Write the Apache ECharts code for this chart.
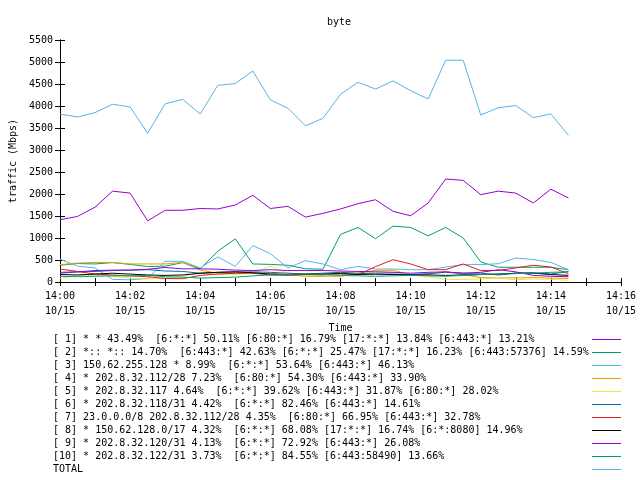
<!DOCTYPE html>
<html><head><meta charset="utf-8">
<script src="https://cdn.jsdelivr.net/npm/echarts@6/dist/echarts.min.js"></script>
<style>html,body{margin:0;padding:0;background:#fff}#c{width:640px;height:480px}</style>
</head><body><div id="c"></div>
<script>
const times = ['14:00:00','14:00:30','14:01:00','14:01:30','14:02:00','14:02:30','14:03:00','14:03:30','14:04:00','14:04:30',
 '14:05:00','14:05:30','14:06:00','14:06:30','14:07:00','14:07:30','14:08:00','14:08:30','14:09:00','14:09:30',
 '14:10:00','14:10:30','14:11:00','14:11:30','14:12:00','14:12:30','14:13:00','14:13:30','14:14:00','14:14:30'];
const xTickLabels = ['14:00','14:02','14:04','14:06','14:08','14:10','14:12','14:14','14:16'];
const dateLabel = '10/15';
const yTicks = [0,500,1000,1500,2000,2500,3000,3500,4000,4500,5000,5500];

const names = [
 '[ 1] * * 43.49%  [6:*:*] 50.11% [6:80:*] 16.79% [17:*:*] 13.84% [6:443:*] 13.21%',
 '[ 2] *:: *:: 14.70%  [6:443:*] 42.63% [6:*:*] 25.47% [17:*:*] 16.23% [6:443:57376] 14.59%',
 '[ 3] 150.62.255.128 * 8.99%  [6:*:*] 53.64% [6:443:*] 46.13%',
 '[ 4] * 202.8.32.112/28 7.23%  [6:80:*] 54.30% [6:443:*] 33.90%',
 '[ 5] * 202.8.32.117 4.64%  [6:*:*] 39.62% [6:443:*] 31.87% [6:80:*] 28.02%',
 '[ 6] * 202.8.32.118/31 4.42%  [6:*:*] 82.46% [6:443:*] 14.61%',
 '[ 7] 23.0.0.0/8 202.8.32.112/28 4.35%  [6:80:*] 66.95% [6:443:*] 32.78%',
 '[ 8] * 150.62.128.0/17 4.32%  [6:*:*] 68.08% [17:*:*] 16.74% [6:*:8080] 14.96%',
 '[ 9] * 202.8.32.120/31 4.13%  [6:*:*] 72.92% [6:443:*] 26.08%',
 '[10] * 202.8.32.122/31 3.73%  [6:*:*] 84.55% [6:443:58490] 13.66%',
 'TOTAL'
];
const colors = ['#9400d3','#009e73','#56b4e9','#e69f00','#f0e442','#0072b2','#e51e10','#000000','#9400d3','#009e73','#56b4e9'];

const s1 = [1415,1490,1700,2065,2020,1390,1630,1630,1670,1660,1750,1970,1670,1720,1475,1560,1660,1780,1870,1605,1505,1795,2340,2310,1985,2065,2020,1795,2110,1910];
const s2 = [380,420,410,440,400,350,360,440,300,700,980,410,400,380,300,290,1080,1240,985,1270,1240,1050,1240,1000,455,335,335,335,335,280];
const s3 = [520,360,320,60,50,80,470,470,320,570,355,825,645,320,485,410,280,355,295,295,280,280,340,395,395,415,545,510,445,280];
const s4 = [395,430,445,445,410,410,410,445,270,200,200,200,200,160,130,130,130,200,265,265,165,170,240,170,100,90,95,100,90,80];
const s5 = [80,150,160,130,90,70,90,130,200,180,170,200,360,200,150,160,170,180,230,220,180,120,60,60,70,90,50,70,60,40];
const s6 = [200,230,240,260,270,280,250,240,200,220,230,230,220,200,180,200,220,200,180,180,170,190,220,200,200,160,200,210,180,240];
const s7 = [295,240,180,160,140,120,80,75,150,180,200,200,160,150,170,160,205,165,350,507,410,280,280,410,260,260,320,380,340,190];
const s8 = [170,160,180,200,180,160,150,160,200,220,230,210,180,170,180,180,190,170,180,170,160,160,150,160,170,180,200,200,170,150];
const s9 = [220,230,260,270,270,290,330,300,300,290,270,260,280,260,260,260,250,240,230,220,200,220,230,200,220,280,230,150,130,120];
const s10 = [130,120,130,140,140,150,120,110,90,100,110,140,160,170,180,170,150,140,130,140,150,140,130,150,170,180,190,200,220,230];
const total = [3818,3750,3850,4040,3980,3380,4050,4150,3820,4470,4510,4795,4140,3950,3550,3720,4265,4540,4385,4570,4350,4160,5040,5040,3795,3960,4010,3735,3820,3335];

const allSeries = [s1,s2,s3,s4,s5,s6,s7,s8,s9,s10,total];
const mins = times.map(t => { const p = t.split(':').map(Number); return (p[0]-14)*60 + p[1] + p[2]/60; });

const FONT = 'DejaVu Sans Mono';
const chart = echarts.init(document.getElementById('c'), null, {renderer:'canvas'});
const axisLine = {show:true, lineStyle:{color:'#000', width:1}};
chart.setOption({
  animation:false,
  backgroundColor:'#fff',
  title:{text:'byte', left:322, top:12, textStyle:{fontFamily:FONT, fontSize:10, fontWeight:'normal', color:'#000'}},
  grid:{left:58, right:19, top:40, bottom:198, containLabel:false, show:false},
  xAxis:[{
    type:'value', min:0, max:16, interval:2, position:'bottom',
    name:'Time', nameLocation:'middle', nameGap:40,
    nameTextStyle:{fontFamily:FONT, fontSize:10, color:'#000'},
    axisLine:axisLine,
    axisTick:{show:true, inside:true, length:4, lineStyle:{color:'#000'}},
    minorTick:{show:true, splitNumber:2, length:4, lineStyle:{color:'#000'}},
    splitLine:{show:false},
    axisLabel:{fontFamily:FONT, fontSize:10, color:'#000', lineHeight:15, margin:7,
      formatter:v => xTickLabels[Math.round(v/2)] + '\n' + dateLabel}
  },{
    type:'value', min:0, max:16, interval:2, position:'top',
    axisLine:axisLine,
    axisTick:{show:true, inside:true, length:4, lineStyle:{color:'#000'}},
    minorTick:{show:true, splitNumber:2, length:4, lineStyle:{color:'#000'}},
    splitLine:{show:false}, axisLabel:{show:false}
  }],
  yAxis:[{
    type:'value', min:yTicks[0], max:yTicks[yTicks.length-1], interval:500, position:'left',
    name:'traffic (Mbps)', nameLocation:'middle', nameGap:41,
    nameTextStyle:{fontFamily:FONT, fontSize:10, color:'#000'},
    axisLine:axisLine,
    axisTick:{show:true, inside:true, length:5, lineStyle:{color:'#000'}},
    splitLine:{show:false},
    axisLabel:{fontFamily:FONT, fontSize:10, color:'#000', margin:7, formatter:v => String(v)}
  },{
    type:'value', min:yTicks[0], max:yTicks[yTicks.length-1], interval:500, position:'right',
    axisLine:axisLine,
    axisTick:{show:true, inside:true, length:5, lineStyle:{color:'#000'}},
    splitLine:{show:false}, axisLabel:{show:false}
  }],
  legend:{
    orient:'vertical', left:53, top:333, align:'right', padding:0,
    itemGap:0, itemWidth:29, itemHeight:1, icon:'rect',
    selectedMode:false,
    formatter: n => '{a|' + n + '}',
    textStyle:{fontFamily:FONT, fontSize:10, color:'#000', lineHeight:13,
      rich:{a:{fontFamily:FONT, fontSize:10, color:'#000', lineHeight:13, width:534, align:'left'}}},
    data:names
  },
  series: allSeries.map((arr,i) => ({
    name:names[i], type:'line', xAxisIndex:0, yAxisIndex:0,
    data: arr.map((v,j) => [mins[j], v]),
    showSymbol:false, symbol:'none',
    lineStyle:{color:colors[i], width:1},
    itemStyle:{color:colors[i]},
    emphasis:{disabled:true}
  }))
});
</script></body></html>
